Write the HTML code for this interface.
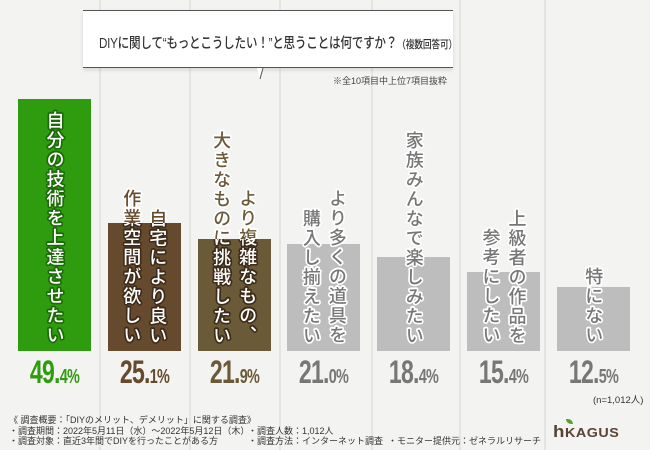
<!DOCTYPE html>
<html><head><meta charset="utf-8">
<style>
*{margin:0;padding:0;box-sizing:border-box}
body{width:650px;height:450px;overflow:hidden;background:#f3f3f1;font-family:"Liberation Sans","Noto Sans CJK JP",sans-serif;position:relative}
#bg{position:absolute;left:0;top:0;width:650px;height:450px}
.title{position:absolute;left:83px;top:10px;width:370px;height:58px;background:#fff;border-top:1.5px solid #555;border-bottom:1.5px solid #555;box-shadow:0 2px 4px rgba(0,0,0,.12);}
.title span{position:absolute;left:16px;top:21px;white-space:nowrap;font-size:14.5px;color:#333;letter-spacing:-0.3px;transform:scaleX(.8);transform-origin:left top;font-weight:500}
.title small{font-size:11px}
.note{position:absolute;left:333px;top:74px;font-size:9px;color:#444;white-space:nowrap}
.bar{position:absolute;overflow:hidden}
.clip{position:absolute;left:0;overflow:hidden;width:650px}
.col{position:absolute;writing-mode:vertical-rl;font-size:18px;line-height:20px;width:20px;font-weight:500;letter-spacing:1.5px;white-space:nowrap}
.val{position:absolute;top:354px;font-weight:bold;white-space:nowrap;transform:scaleX(.72);transform-origin:center top;font-size:32px;letter-spacing:-1px}
.val small{font-size:20px}
.foot{position:absolute;font-size:9px;color:#333;white-space:nowrap;line-height:10.5px}
</style></head><body>
<svg id="bg" width="650" height="450">
<g stroke="#e4e4e1" stroke-width="2">
<line x1="100" y1="0" x2="100" y2="450"/><line x1="190" y1="0" x2="190" y2="450"/><line x1="280" y1="0" x2="280" y2="450"/><line x1="372" y1="0" x2="372" y2="450"/><line x1="545" y1="0" x2="545" y2="450"/><line x1="460" y1="0" x2="460" y2="450"/>
</g>
</svg>
<div class="title"><span>DIYに関して“もっとこうしたい！”と思うことは何ですか？<small>（複数回答可）</small></span></div>
<svg style="position:absolute;left:255px;top:67px" width="14" height="14"><path d="M2 1 L8 1 L5 12 Z" fill="#fff"/><line x1="8" y1="1" x2="5" y2="12" stroke="#555" stroke-width="1"/></svg>
<div class="note">※全10項目中上位7項目抜粋</div>
<div id="chart"></div>
<div class="foot" style="left:593px;top:396px;font-size:9.5px">(n=1,012人)</div>
<div class="foot" style="left:9px;top:415px">《 調査概要：「DIYのメリット、デメリット」に関する調査》<br>・調査期間：2022年5月11日（水）～2022年5月12日（木）<br>・調査対象：直近3年間でDIYを行ったことがある方</div>
<div class="foot" style="left:248px;top:425.5px">・調査人数：1,012人<br>・調査方法：インターネット調査</div>
<div class="foot" style="left:388px;top:436px">・モニター提供元：ゼネラルリサーチ</div>
<div style="position:absolute;left:553px;top:423px;height:18px;font-size:17px;font-weight:bold;color:#5a4332;letter-spacing:0.5px;line-height:18px;transform:scaleX(1.1);transform-origin:left">h<span style="font-size:13px">KAGUS</span></div>
<div style="position:absolute;left:566px;top:419px;width:7px;height:5px;background:#5aa02c;border-radius:0 5px 0 5px"></div>
<script>
const categories=["自分の技術を上達させたい","自宅により良い作業空間が欲しい","大きなものに挑戦したい","より多くの道具を購入し揃えたい","家族みんなで楽しみたい","上級者の作品を参考にしたい","特にない"];
const values=[49.4,25.1,21.9,21.0,18.4,15.4,12.5];
const labelColumns=[["自分の技術を上達させたい"],["自宅により良い","作業空間が欲しい"],["より複雑なもの、","大きなものに挑戦したい"],["より多くの道具を","購入し揃えたい"],["家族みんなで楽しみたい"],["上級者の作品を","参考にしたい"],["特にない"]];
const barColors=["#2e9c0e","#654a2e","#6b5a37","#bdbdbd","#bdbdbd","#bdbdbd","#bdbdbd"];
const textColors=["#2e9c0e","#654a2e","#6b5a37","#777","#777","#777","#777"];
const baseY=351,scale=5.1,x0=18,step=89.8,bw=73;
function y(v){return baseY-v*scale;}
function xPos(i){return x0+i*step;}
const chart=document.getElementById('chart');
values.forEach((v,i)=>{
  const top=y(v),left=xPos(i);
  const bar=document.createElement('div');
  bar.className='bar';
  
  
  bar.style.cssText=`left:${left}px;top:${top}px;width:${bw}px;height:${baseY-top}px;background:${barColors[i]}`;
  chart.appendChild(bar);
  const cols=labelColumns[i];
  const n=cols.length;
  const above=document.createElement('div');
  above.className='clip';
  
  
  above.style.cssText=`top:0;height:${top}px`;
  const inside=document.createElement('div');
  inside.className='clip';
  
  
  inside.style.cssText=`top:${top}px;height:${baseY-top}px`;
  const gray=i>=3;
  cols.forEach((t,c)=>{
    const cx=left+bw/2+(n===2?(c===0?13:-13):0);
    [[above,0,false],[inside,top,true]].forEach(([layer,off,inn])=>{
      const s=document.createElement('div');
      s.className='col';
      
      
      s.textContent=t;
      let fill,outline;
      if(gray){fill='#777';outline='#fff';}
      else if(inn){fill='#fff';outline=i===0?'#1d6a08':'#3e2c1a';}
      else{fill=textColors[i];outline='#fff';}
      const sh=[];
      for(let a=0;a<16;a++){const r=1.6;sh.push(`${(Math.cos(a*Math.PI/8)*r).toFixed(2)}px ${(Math.sin(a*Math.PI/8)*r).toFixed(2)}px 0 ${outline}`);}
      s.style.color=fill;s.style.textShadow=sh.join(',');
      s.style.left=(cx-10)+'px';
      const h=t.length*19.5;
      s.style.top=(345-h-off)+'px';
      layer.appendChild(s);
    });
  });
  chart.appendChild(above);chart.appendChild(inside);
  const val=document.createElement('div');
  val.className='val';
  
  
  const parts=v.toFixed(1).split('.');
  val.innerHTML=`${parts[0]}.<small>${parts[1]}%</small>`;
  val.style.color=textColors[i];
  val.style.left=(left-20)+'px';val.style.width=(bw+40)+'px';val.style.textAlign='center';
  chart.appendChild(val);
});
</script>
</body></html>
